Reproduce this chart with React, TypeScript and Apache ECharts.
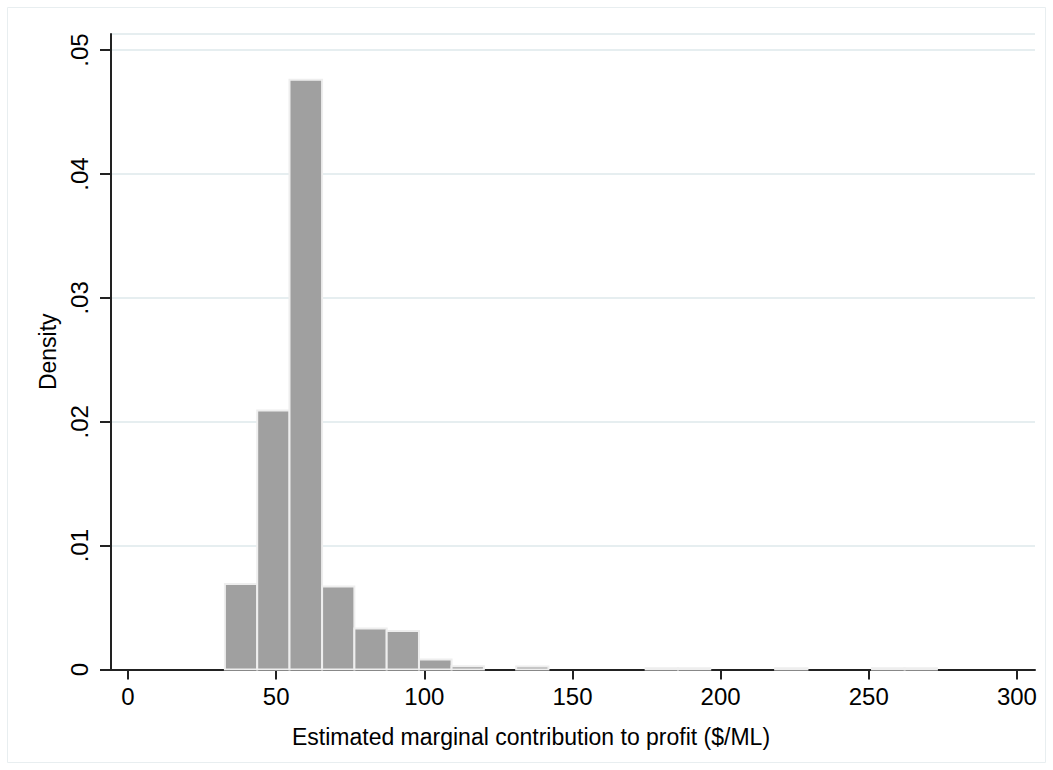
import React, { useEffect, useRef } from "react";
import * as echarts from "echarts";

// Histogram bins: lower edges, upper edges and densities
const binLower = [32.7, 43.6, 54.5, 65.5, 76.4, 87.3, 98.2, 109.2, 120.1, 131.0, 141.9, 152.8, 163.8, 174.7, 185.6, 196.5, 207.5, 218.4, 229.3, 240.2, 251.1, 262.1];
const binUpper = [43.6, 54.5, 65.5, 76.4, 87.3, 98.2, 109.2, 120.1, 131.0, 141.9, 152.8, 163.8, 174.7, 185.6, 196.5, 207.5, 218.4, 229.3, 240.2, 251.1, 262.1, 273.0];
const densities = [0.0069, 0.0209, 0.0476, 0.0067, 0.0033, 0.0031, 0.0008, 0.00026, 0, 0.00025, 0, 0, 0, 0.0001, 0.0001, 0, 0, 0.0001, 0, 0, 0.0001, 0.0001];

const xTicks = [0, 50, 100, 150, 200, 250, 300];
const yTicks = [0, 0.01, 0.02, 0.03, 0.04, 0.05];
const yTickLabels = ["0", ".01", ".02", ".03", ".04", ".05"];

const xTitle = "Estimated marginal contribution to profit ($/ML)";
const yTitle = "Density";

export default function App() {
  const ref = useRef<HTMLDivElement>(null);
  useEffect(() => {
    if (!ref.current) return;
    const chart = echarts.init(ref.current, undefined, { renderer: "svg" });
    const data = binLower.map((lo, i) => [lo, binUpper[i], densities[i]]);
    const font = "'Liberation Sans', Arial, Helvetica, sans-serif";
    chart.setOption({
      animation: false,
      backgroundColor: "#ffffff",
      graphic: [
        {
          type: "rect",
          shape: { x: 7.5, y: 7.5, width: 1038, height: 755 },
          style: { fill: "none", stroke: "#e8eef0", lineWidth: 1 },
          silent: true,
        },
      ],
      grid: { left: 111, right: 18, top: 34, bottom: 100.5, containLabel: false },
      xAxis: {
        type: "value",
        min: -5.74,
        max: 306.1,
        name: xTitle,
        nameLocation: "middle",
        nameGap: 56,
        nameTextStyle: { fontFamily: font, fontSize: 23, color: "#000", padding: [0, 84, 0, 0] },
        axisLine: { show: true, onZero: false, lineStyle: { color: "#222", width: 2 } },
        axisTick: { show: true, length: 10, lineStyle: { color: "#222", width: 2 }, customValues: xTicks },
        axisLabel: { fontFamily: font, fontSize: 24, color: "#000", margin: 15, customValues: xTicks, formatter: (v: number) => String(v) },
        splitLine: { show: false },
      },
      yAxis: {
        type: "value",
        min: 0,
        max: 0.0513,
        interval: 0.01,
        name: yTitle,
        nameLocation: "middle",
        nameGap: 50,
        nameRotate: 90,
        nameTextStyle: { fontFamily: font, fontSize: 23, color: "#000" },
        axisLine: { show: true, onZero: false, lineStyle: { color: "#222", width: 2 } },
        axisTick: { show: true, length: 11, lineStyle: { color: "#222", width: 2 } },
        axisLabel: {
          fontFamily: font,
          fontSize: 24,
          color: "#000",
          rotate: 90,
          margin: 20,
          showMaxLabel: false,
          formatter: (v: number) => {
            const idx = yTicks.findIndex((t) => Math.abs(t - v) < 1e-9);
            return idx >= 0 ? yTickLabels[idx] : "";
          },
        },
        splitLine: { show: true, lineStyle: { color: "#e6eef0", width: 2 } },
      },
      series: [
        {
          type: "custom",
          data,
          encode: { x: [0, 1], y: 2 },
          z: 3,
          renderItem: (params: any, api: any) => {
            const x0 = api.value(0);
            const x1 = api.value(1);
            const d = api.value(2);
            if (!(d > 0)) return null;
            const p0 = api.coord([x0, d]);
            const p1 = api.coord([x1, 0]);
            return {
              type: "rect",
              shape: { x: p0[0], y: p0[1], width: p1[0] - p0[0], height: p1[1] - p0[1] },
              style: { fill: "#a0a0a0", stroke: "#eeeeee", lineWidth: 2 },
            };
          },
        },
      ],
    });
    return () => chart.dispose();
  }, []);
  return <div ref={ref} style={{ position: "absolute", left: 0, top: 0, width: 1053, height: 770 }} />;
}
